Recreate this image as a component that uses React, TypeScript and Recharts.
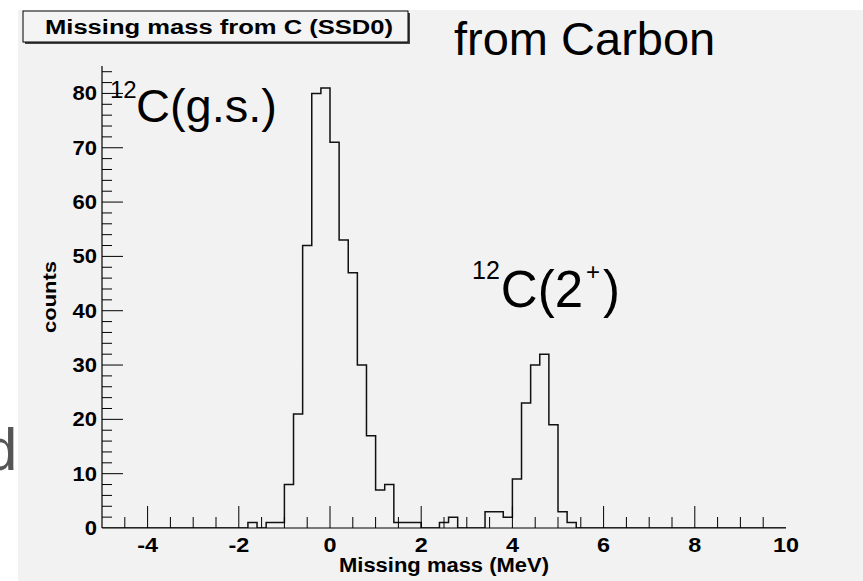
import { Line, LineChart, XAxis, YAxis } from "recharts";

// histogram binning: 75 bins of 0.2 MeV from -5 to 10
const BIN_START = -5;
const BIN_WIDTH = 0.2;

const counts = [
  0, 0, 0, 0, 0, 0, 0, 0, 0, 0,
  0, 0, 0, 0, 0, 0, 1, 0, 1, 1,
  8, 21, 52, 80, 81, 71, 53, 47, 30, 17,
  7, 8, 1, 1, 1, 0, 0, 1, 2, 0,
  0, 0, 3, 3, 2, 9, 23, 30, 32, 19,
  3, 1, 0, 0, 0, 0, 0, 0, 0, 0,
  0, 0, 0, 0, 0, 0, 0, 0, 0, 0,
  0, 0, 0, 0, 0,
];

const xTicks = [
  -5, -4.5, -4, -3.5, -3, -2.5, -2, -1.5, -1, -0.5, 0, 0.5, 1, 1.5, 2, 2.5,
  3, 3.5, 4, 4.5, 5, 5.5, 6, 6.5, 7, 7.5, 8, 8.5, 9, 9.5, 10,
];
const xLabels = [-4, -2, 0, 2, 4, 6, 8, 10];

const yTicks = [
  0, 2, 4, 6, 8, 10, 12, 14, 16, 18, 20, 22, 24, 26, 28, 30, 32, 34, 36, 38,
  40, 42, 44, 46, 48, 50, 52, 54, 56, 58, 60, 62, 64, 66, 68, 70, 72, 74, 76,
  78, 80, 82, 84,
];
const yLabels = [0, 10, 20, 30, 40, 50, 60, 70, 80];

const X_MIN = -5;
const X_MAX = 10;
const Y_MAX = 85.05;

const rows = [
  ...counts.map((c, i) => ({ x: Number((BIN_START + i * BIN_WIDTH).toFixed(2)), y: c })),
  { x: X_MAX, y: counts[counts.length - 1] },
];

const ROOT_FONT = "'Liberation Sans', Arial, Helvetica, sans-serif";

const XTick = (props: any) => {
  const { x, y, payload } = props;
  const v = payload.value;
  const major = xLabels.includes(v);
  return (
    <g>
      {v > X_MIN && v < X_MAX ? (
        <line x1={x} y1={y} x2={x} y2={y - (major ? 22 : 11)} stroke="#000" strokeWidth={1} />
      ) : null}
      {major ? (
        <text
          transform={`translate(${x},${y + 23.5}) scale(1.2,1)`}
          textAnchor="middle"
          fontFamily={ROOT_FONT}
          fontWeight="bold"
          fontSize={19.5}
          fill="#000"
        >
          {v}
        </text>
      ) : null}
    </g>
  );
};

const YTick = (props: any) => {
  const { x, y, payload } = props;
  const v = payload.value;
  const major = yLabels.includes(v);
  return (
    <g>
      {v > 0 ? (
        <line x1={x} y1={y} x2={x + (major ? 21 : 10)} y2={y} stroke="#000" strokeWidth={1} />
      ) : null}
      {major ? (
        <text
          transform={`translate(${x - 5},${y + 7}) scale(1.1,1)`}
          textAnchor="end"
          fontFamily={ROOT_FONT}
          fontWeight="bold"
          fontSize={20}
          fill="#000"
        >
          {v}
        </text>
      ) : null}
    </g>
  );
};

export default function App() {
  return (
    <div style={{ position: "absolute", left: 0, top: 0, width: 863, height: 581, background: "#fff", overflow: "hidden" }}>
      <div style={{ position: "absolute", left: 18, top: 10, width: 845, height: 571, background: "#f2f2f2" }} />
      <div style={{ position: "absolute", left: 0, top: 0 }}>
        <LineChart width={863} height={581} data={rows} margin={{ top: 66, right: 77, bottom: 0, left: 0 }}>
          <XAxis
            xAxisId="b"
            dataKey="x"
            type="number"
            domain={[X_MIN, X_MAX]}
            ticks={xTicks}
            interval={0}
            height={53}
            tickSize={0}
            tickMargin={0}
            tickLine={false}
            axisLine={{ stroke: "#000", strokeWidth: 1.2 }}
            tick={<XTick />}
            allowDataOverflow
          />
          <XAxis
            xAxisId="t"
            orientation="top"
            dataKey="x"
            type="number"
            domain={[X_MIN, X_MAX]}
            height={0}
            tick={false}
            tickLine={false}
            axisLine={{ stroke: "#000", strokeWidth: 1.2 }}
          />
          <YAxis
            yAxisId="l"
            type="number"
            domain={[0, Y_MAX]}
            ticks={yTicks}
            interval={0}
            width={102}
            tickSize={0}
            tickMargin={0}
            tickLine={false}
            axisLine={{ stroke: "#000", strokeWidth: 1.2 }}
            tick={<YTick />}
            allowDataOverflow
          />
          <YAxis
            yAxisId="r"
            orientation="right"
            type="number"
            domain={[0, Y_MAX]}
            width={0}
            tick={false}
            tickLine={false}
            axisLine={{ stroke: "#000", strokeWidth: 1.2 }}
          />
          <Line
            xAxisId="b"
            yAxisId="l"
            type="stepAfter"
            dataKey="y"
            stroke="#111"
            strokeWidth={1.5}
            dot={false}
            isAnimationActive={false}
          />
        </LineChart>
      </div>
      <svg width={863} height={581} style={{ position: "absolute", left: 0, top: 0, pointerEvents: "none" }}>
        {/* histogram title box */}
        <rect x={25} y={13} width={385} height={31} fill="#444" />
        <rect x={23} y={11} width={385} height={31} fill="#f4f4f4" stroke="#000" strokeWidth={1} />
        <text
          x={219}
          y={34}
          textAnchor="middle"
          fontFamily={ROOT_FONT}
          fontWeight="bold"
          fontSize={20}
          textLength={348}
          lengthAdjust="spacingAndGlyphs"
          fill="#000"
        >
          Missing mass from C (SSD0)
        </text>
        {/* axis titles */}
        <text
          x={444}
          y={572}
          textAnchor="middle"
          fontFamily={ROOT_FONT}
          fontWeight="bold"
          fontSize={20}
          textLength={210}
          lengthAdjust="spacingAndGlyphs"
          fill="#000"
        >
          Missing mass (MeV)
        </text>
        <text
          transform="translate(56,297) rotate(-90)"
          textAnchor="middle"
          fontFamily={ROOT_FONT}
          fontWeight="bold"
          fontSize={19}
          textLength={72}
          lengthAdjust="spacingAndGlyphs"
          fill="#000"
        >
          counts
        </text>
        {/* slide annotations */}
        <text x={454} y={55} fontFamily={ROOT_FONT} fontSize={47} fill="#000">
          from Carbon
        </text>
        <text x={110} y={98} fontFamily={ROOT_FONT} fontSize={24} fill="#000">
          12
        </text>
        <text x={136} y={122} fontFamily={ROOT_FONT} fontSize={47} fill="#000">
          C(g.s.)
        </text>
        <text x={472} y={307} fontFamily={ROOT_FONT} fill="#000">
          <tspan fontSize={25} dy={-28}>12</tspan>
          <tspan fontSize={51} dy={28} dx={1}>C(2</tspan>
          <tspan fontSize={24} dy={-27} dx={3}>+</tspan>
          <tspan fontSize={51} dy={27} dx={3}>)</tspan>
        </text>
        <text x={-16} y={470} fontFamily={ROOT_FONT} fontSize={60} fill="#555">
          d
        </text>
      </svg>
    </div>
  );
}
